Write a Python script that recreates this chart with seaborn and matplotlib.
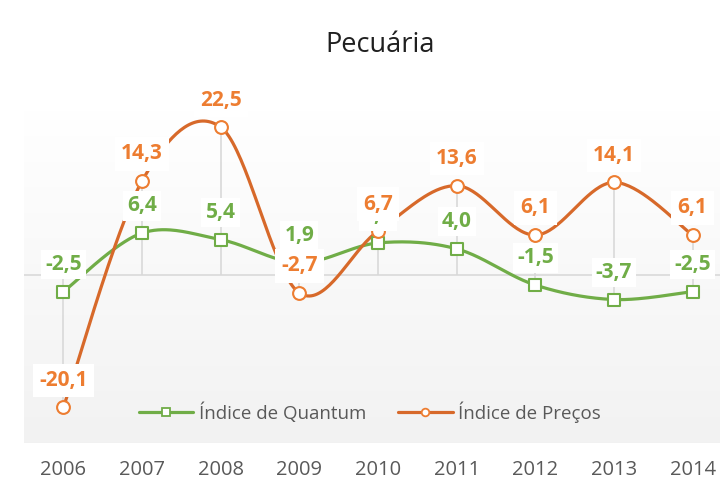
import numpy as np
import matplotlib
matplotlib.use("Agg")
import matplotlib.pyplot as plt
from matplotlib.lines import Line2D
import seaborn as sns
import pandas as pd

years = ["2006", "2007", "2008", "2009", "2010", "2011", "2012", "2013", "2014"]
quantum = [-2.5, 6.4, 5.4, 1.9, 4.9, 4.0, -1.5, -3.7, -2.5]
precos = [-20.1, 14.3, 22.5, -2.7, 6.7, 13.6, 6.1, 14.1, 6.1]
series_names = ["Índice de Quantum", "Índice de Preços"]
title = "Pecuária"

GREEN = "#70AD47"
ORANGE_LINE = "#D7692A"
ORANGE = "#ED7D31"
GRID = "#D9D9D9"
TXT = "#595959"

sns.set_theme(style="white")
plt.rcParams['font.family'] = ['Open Sans', 'DejaVu Sans']


def smooth(xs, ys, n=40):
    """Catmull-Rom (Excel-like) smoothing through the data points."""
    P = np.column_stack([xs, ys]).astype(float)
    P = np.vstack([P[0], P, P[-1]])
    out = []
    for i in range(1, len(P) - 2):
        p0, p1, p2, p3 = P[i - 1], P[i], P[i + 1], P[i + 2]
        m1 = (p2 - p0) / 2.0
        m2 = (p3 - p1) / 2.0
        t = np.linspace(0, 1, n)[:, None]
        h00 = 2 * t**3 - 3 * t**2 + 1
        h10 = t**3 - 2 * t**2 + t
        h01 = -2 * t**3 + 3 * t**2
        h11 = t**3 - t**2
        seg = h00 * p1 + h10 * m1 + h01 * p2 + h11 * m2
        out.append(seg if i == 1 else seg[1:])
    arr = np.vstack(out)
    return arr[:, 0], arr[:, 1]


W, H = 720, 478
fig = plt.figure(figsize=(W / 100, H / 100), dpi=100)
fig.patch.set_facecolor("white")
left, right, top, bottom = 24, 732, 110, 443
ax = fig.add_axes([left / W, 1 - bottom / H, (right - left) / W, (bottom - top) / H])

x = np.arange(len(years))
ymin, ymax = -25.5, 25.1
ax.set_xlim(-0.5, len(years) - 0.5)
ax.set_ylim(ymin, ymax)

# gradient background of plot area
grad = np.linspace(1.0, 0.949, 256)[:, None]
img = np.dstack([grad, grad, grad])
ax.imshow(img, extent=[-0.5, len(years) - 0.5, ymin, ymax], aspect="auto",
          origin="upper", zorder=0)

# zero line and drop lines
ax.axhline(0, color=GRID, lw=1.2, zorder=1)
hi = np.maximum(np.maximum(quantum, precos), 0)
lo = np.minimum(np.minimum(quantum, precos), 0)
ax.vlines(x, lo, hi, color=GRID, lw=1.2, zorder=1)

# smoothed lines
sx, sy = smooth(x, quantum)
ax.plot(sx, sy, color=GREEN, lw=2.3, zorder=3, solid_capstyle="round")
sx, sy = smooth(x, precos)
ax.plot(sx, sy, color=ORANGE_LINE, lw=2.3, zorder=3, solid_capstyle="round")

df = pd.DataFrame({"x": np.concatenate([x, x]),
                   "v": quantum + precos,
                   "s": [series_names[0]] * len(x) + [series_names[1]] * len(x)})
sns.scatterplot(data=df[df.s == series_names[0]], x="x", y="v", marker="s", s=85,
                facecolor="white", edgecolor=GREEN, linewidth=1.5, ax=ax, zorder=4,
                legend=False)
sns.scatterplot(data=df[df.s == series_names[1]], x="x", y="v", marker="o", s=85,
                facecolor="white", edgecolor=ORANGE, linewidth=1.5, ax=ax, zorder=4,
                legend=False)

def fmt(v):
    return f"{v:.1f}".replace(".", ",")

for xi, v in zip(x, quantum):
    ax.annotate(fmt(v), (xi, v), xytext=(0, 19.5), textcoords="offset points",
                ha="center", va="center", fontsize=15, fontweight="bold", color=GREEN,
                bbox=dict(boxstyle="square,pad=0.2", fc="white", ec="none"), zorder=5)
for xi, v in zip(x, precos):
    ax.annotate(fmt(v), (xi, v), xytext=(0, 19.5), textcoords="offset points",
                ha="center", va="center", fontsize=15, fontweight="bold", color=ORANGE,
                bbox=dict(boxstyle="square,pad=0.3", fc="white", ec="none"), zorder=6)

ax.set_xticks(x)
ax.set_xticklabels(years)
ax.set_yticks([])
ax.tick_params(axis="x", length=0, pad=12, labelsize=14.5, labelcolor=TXT)
ax.set_xlabel("")
ax.set_ylabel("")
for sp in ax.spines.values():
    sp.set_visible(False)

handles = [
    Line2D([0], [0], color=GREEN, lw=2.3, marker="s", markersize=5.5,
           markerfacecolor="white", markeredgecolor=GREEN, markeredgewidth=1.3),
    Line2D([0], [0], color=ORANGE_LINE, lw=2.3, marker="o", markersize=5.5,
           markerfacecolor="white", markeredgecolor=ORANGE, markeredgewidth=1.3),
]
leg = ax.legend(handles, series_names, loc="center", ncol=2,
                bbox_to_anchor=((370 - left) / (right - left), (bottom - 412) / (bottom - top)),
                frameon=False, fontsize=13.5, handlelength=2.9, handletextpad=0.3,
                columnspacing=1.7, labelcolor=TXT)

fig.text(380 / W, 1 - 45 / H, title, ha="center", va="center", fontsize=19.5, color="#1F1F1F")

fig.savefig("out.png", dpi=100)
